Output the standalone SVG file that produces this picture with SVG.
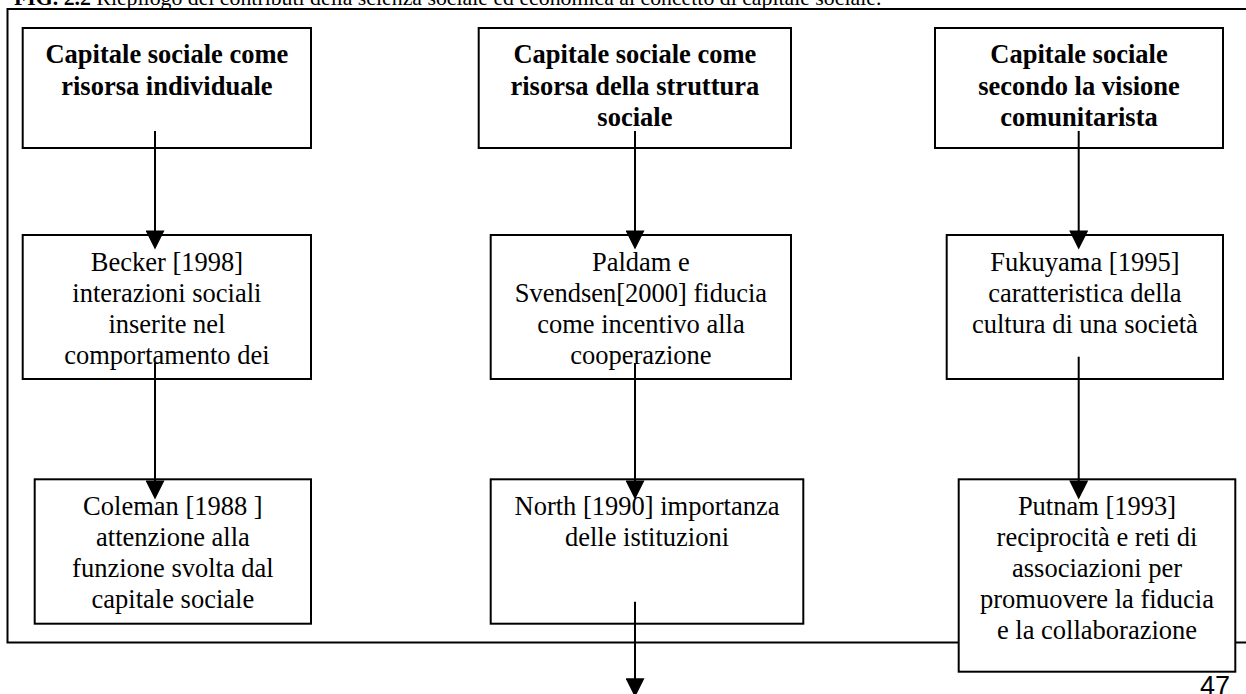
<svg xmlns="http://www.w3.org/2000/svg" width="1246" height="694" viewBox="0 0 1246 694">
<defs>
<style>
.box{fill:#fff;stroke:#000;stroke-width:2}
.frame{fill:none;stroke:#000;stroke-width:2}
.t{font-family:"Liberation Serif","Times New Roman",serif;font-size:26.5px;fill:#000;text-anchor:middle}
.b{font-weight:bold}
.conn{stroke:#000;stroke-width:2;fill:none;marker-end:url(#ah)}
</style>
<marker id="ah" viewBox="0 0 20 20" refX="10" refY="10" markerWidth="20" markerHeight="19" markerUnits="userSpaceOnUse" orient="auto">
<path d="M0,0 L20,10 L0,20 Z" fill="#000"/>
</marker>
</defs>
<rect width="1246" height="694" fill="#fff"/>
<text x="14" y="5" font-family="Liberation Serif, Times New Roman, serif" font-size="21.8" fill="#000"><tspan font-weight="bold">FIG. 2.2</tspan> Riepilogo dei contributi della scienza sociale ed economica al concetto di capitale sociale.</text>
<rect class="frame" x="7.5" y="9" width="1250" height="633.5"/>
<g id="n_a1"><rect class="box" x="22.7" y="28" width="288.3" height="120"/>
<text class="t b" x="166.9" y="63.3">Capitale sociale come</text><text class="t b" x="166.9" y="95">risorsa individuale</text></g>
<g id="n_b1"><rect class="box" x="478.7" y="28" width="312.3" height="120"/>
<text class="t b" x="634.9" y="63.3">Capitale sociale come</text><text class="t b" x="634.9" y="94.6">risorsa della struttura</text><text class="t b" x="634.9" y="126">sociale</text></g>
<g id="n_c1"><rect class="box" x="935" y="28" width="288" height="120"/>
<text class="t b" x="1079" y="63.3">Capitale sociale</text><text class="t b" x="1079" y="94.6">secondo la visione</text><text class="t b" x="1079" y="126">comunitarista</text></g>
<g id="n_a2"><rect class="box" x="22.7" y="235" width="288.3" height="144"/>
<text class="t" x="166.9" y="271">Becker [1998]</text><text class="t" x="166.9" y="302">interazioni sociali</text><text class="t" x="166.9" y="333">inserite nel</text><text class="t" x="166.9" y="364">comportamento dei</text></g>
<g id="n_b2"><rect class="box" x="490.7" y="235" width="300.3" height="144"/>
<text class="t" x="640.9" y="271">Paldam e</text><text class="t" x="640.9" y="302">Svendsen[2000] fiducia</text><text class="t" x="640.9" y="333">come incentivo alla</text><text class="t" x="640.9" y="364">cooperazione</text></g>
<g id="n_c2"><rect class="box" x="946.7" y="235" width="276.3" height="144"/>
<text class="t" x="1084.9" y="271">Fukuyama [1995]</text><text class="t" x="1084.9" y="302">caratteristica della</text><text class="t" x="1084.9" y="333">cultura di una società</text></g>
<g id="n_a3"><rect class="box" x="34.7" y="479.3" width="276.3" height="144.4"/>
<text class="t" x="172.9" y="515">Coleman [1988 ]</text><text class="t" x="172.9" y="546">attenzione alla</text><text class="t" x="172.9" y="577">funzione svolta dal</text><text class="t" x="172.9" y="608">capitale sociale</text></g>
<g id="n_b3"><rect class="box" x="490.7" y="479.3" width="312.6" height="144.4"/>
<text class="t" x="647" y="515">North [1990] importanza</text><text class="t" x="647" y="546">delle istituzioni</text></g>
<g id="n_c3"><rect class="box" x="958.7" y="479.3" width="276.6" height="192.4"/>
<text class="t" x="1097" y="515">Putnam [1993]</text><text class="t" x="1097" y="546">reciprocità e reti di</text><text class="t" x="1097" y="577">associazioni per</text><text class="t" x="1097" y="608">promuovere la fiducia</text><text class="t" x="1097" y="639">e la collaborazione</text></g>
<g id="connectors">
<line class="conn" x1="155" y1="131" x2="155" y2="240"/>
<line class="conn" x1="155" y1="363" x2="155" y2="490"/>
<line class="conn" x1="635" y1="131" x2="635" y2="240"/>
<line class="conn" x1="635" y1="363" x2="635" y2="490"/>
<line class="conn" x1="635" y1="601.7" x2="635" y2="687.7"/>
<line class="conn" x1="1078.7" y1="131" x2="1078.7" y2="240"/>
<line class="conn" x1="1078.7" y1="356.7" x2="1078.7" y2="490"/>
</g>
<text x="1200" y="694.5" font-family="Liberation Sans, Arial, sans-serif" font-size="27" fill="#000">47</text>
</svg>
